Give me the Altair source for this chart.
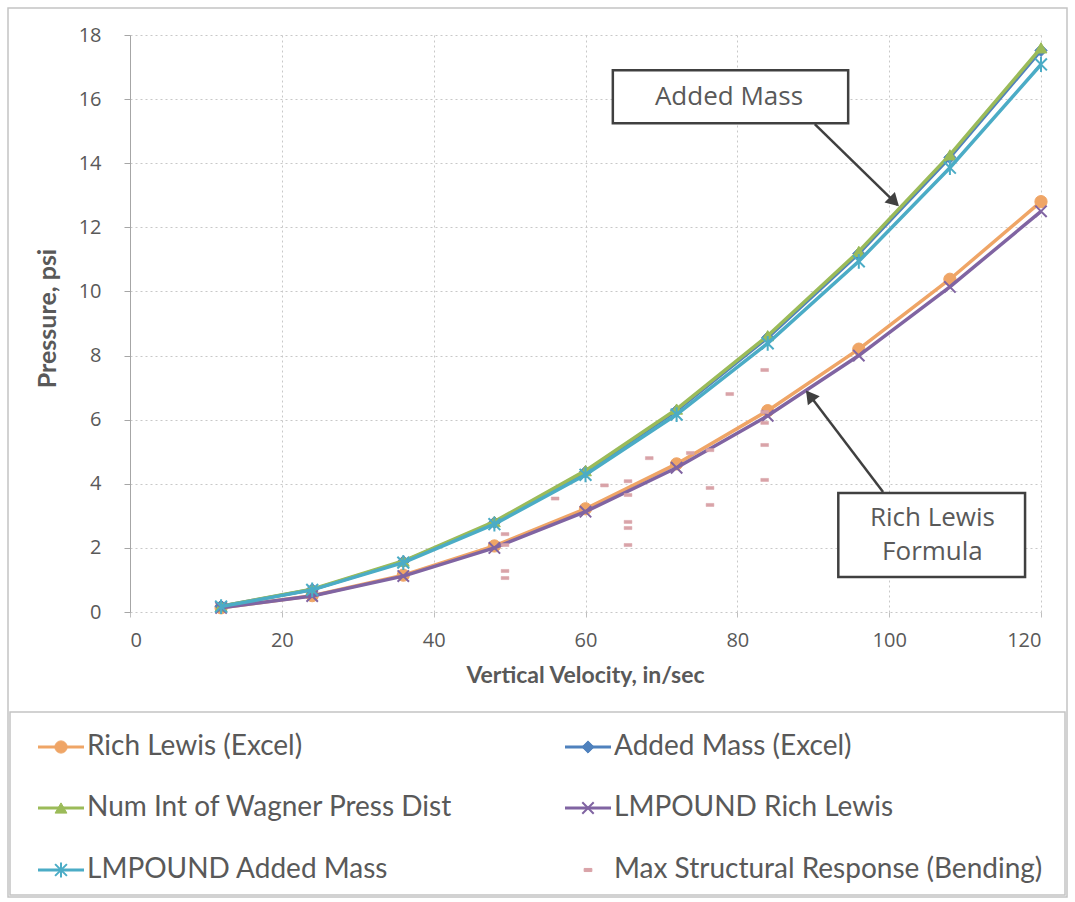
import math
import altair as alt
import pandas as pd

# ---- data -------------------------------------------------------------
velocity = [12, 24, 36, 48, 60, 72, 84, 96, 108, 120]

rich_lewis_excel = [0.13, 0.51, 1.15, 2.06, 3.22, 4.62, 6.28, 8.20, 10.38, 12.80]
added_mass_excel = [0.18, 0.70, 1.57, 2.79, 4.37, 6.28, 8.56, 11.18, 14.18, 17.52]
wagner_num_int = [0.18, 0.71, 1.59, 2.82, 4.41, 6.33, 8.62, 11.25, 14.26, 17.60]
lmpound_rich_lewis = [0.13, 0.50, 1.12, 2.00, 3.13, 4.50, 6.12, 8.00, 10.14, 12.50]
lmpound_added_mass = [0.17, 0.69, 1.54, 2.74, 4.28, 6.16, 8.38, 10.94, 13.86, 17.08]

# Max structural response (bending) test points
msr_velocity = [49.4, 49.4, 49.4, 49.4, 56.0, 62.5, 65.6, 65.6, 65.6, 65.6, 65.6,
                68.4, 73.8, 76.4, 76.4, 76.4, 79.0, 83.6, 83.6, 83.6, 83.6, 83.6]
msr_pressure = [2.43, 2.09, 1.28, 1.06, 3.54, 3.95, 4.08, 3.65, 2.81, 2.62, 2.09,
                4.80, 4.96, 5.05, 3.87, 3.34, 6.80, 7.55, 6.24, 5.90, 5.21, 4.12]

series_names = ["Rich Lewis (Excel)", "Added Mass (Excel)", "Num Int of Wagner Press Dist",
                "LMPOUND Rich Lewis", "LMPOUND Added Mass"]
series_values = [rich_lewis_excel, added_mass_excel, wagner_num_int,
                 lmpound_rich_lewis, lmpound_added_mass]
series_colors = ["#EFA566", "#4F81BD", "#9BBB59", "#8064A2", "#4BACC6"]
msr_name = "Max Structural Response (Bending)"
msr_color = "#D9A3A8"

# Callouts: box corners, text lines and arrow (start -> tip) in data units
callout_names = ["Added Mass", "Rich Lewis Formula"]
callout_box_x = [63.6, 93.3]
callout_box_x2 = [94.6, 117.9]
callout_box_y = [16.9, 3.71]
callout_box_y2 = [15.25, 1.09]
callout_text = [["Added Mass"], ["Rich Lewis", "Formula"]]
callout_text_x = [78.9, 105.7]
callout_text_y = [[16.07], [2.93, 1.87]]
arrow_x0 = [90.2, 99.2]
arrow_y0 = [15.22, 3.74]
arrow_x1 = [101.1, 89.2]
arrow_y1 = [12.70, 6.86]

# ---- layout -------------------------------------------------------------
W, H = 911, 577
X_MAX, Y_MAX = 120, 18
PX_X = W / X_MAX
PX_Y = H / Y_MAX

GRAY = "#595959"
FONT_TICK = "Open Sans"
FONT_TEXT = "Lato"

xscale = alt.Scale(domain=[0, X_MAX], nice=False, zero=True)
yscale = alt.Scale(domain=[0, Y_MAX], nice=False, zero=True)

xaxis = alt.Axis(values=list(range(0, 121, 20)), title="Vertical Velocity, in/sec",
                 grid=True, domain=False, tickSize=5, tickColor="#bfbfbf",
                 labelPadding=13, labelFontSize=20, labelColor=GRAY, labelFont=FONT_TICK,
                 titleFontSize=23, titleFont=FONT_TEXT, titleFontWeight="bold",
                 titleColor=GRAY, titleX=455, titleY=63, titleBaseline="middle",
                 titleAlign="center")
yaxis = alt.Axis(values=list(range(0, 19, 2)), title="Pressure, psi",
                 grid=True, domain=True, domainColor="#a6a6a6", tickSize=6,
                 tickColor="#a6a6a6", labelPadding=23, labelFontSize=20, labelColor=GRAY,
                 labelFont=FONT_TICK, titleFontSize=25, titleFont=FONT_TEXT,
                 titleFontWeight="bold", titleColor=GRAY, titleAngle=270,
                 titleX=-83, titleY=283, titleAlign="center", titleBaseline="middle")


def xy(xf, yf):
    return dict(x=alt.X(xf, type="quantitative", scale=xscale, axis=xaxis),
                y=alt.Y(yf, type="quantitative", scale=yscale, axis=yaxis))


X_SHAPE = "M-1,-1L1,1M-1,1L1,-1"
STAR_SHAPE = "M-1,-1L1,1M-1,1L1,-1M0,-1.25L0,1.25"
DASH_SHAPE = "M-1,-0.4L1,-0.4L1,0.4L-1,0.4Z"
marker_styles = [
    dict(shape="circle", filled=True, size=150),
    dict(shape="diamond", filled=True, size=150),
    dict(shape="triangle-up", filled=True, size=140),
    dict(shape=X_SHAPE, filled=False, size=130, strokeWidth=2),
    dict(shape=STAR_SHAPE, filled=False, size=140, strokeWidth=2),
]

layers = []

# outer frame and legend frame (pixel positions relative to the plot area)
frame = pd.DataFrame({"k": [0]})
layers.append(alt.Chart(frame).mark_rect(fill="white", fillOpacity=0, stroke="#c4c4c4",
                                         strokeWidth=1.5).encode(
    x=alt.value(-122), x2=alt.value(937), y=alt.value(-27), y2=alt.value(285 + 577)))
layers.append(alt.Chart(frame).mark_rect(fill="white", fillOpacity=0, stroke="#c4c4c4",
                                         strokeWidth=1.5).encode(
    x=alt.value(-120), x2=alt.value(935), y=alt.value(677), y2=alt.value(283 + 577)))

# data series: line with markers, drawn in series order
for name, vals, color, ms in zip(series_names, series_values, series_colors, marker_styles):
    df = pd.DataFrame({"velocity": velocity, "pressure": vals, "series": name})
    layers.append(alt.Chart(df).mark_line(color=color, strokeWidth=3.5).encode(
        **xy("velocity", "pressure")))
    pt = dict(ms)
    if pt["filled"]:
        pt["fill"] = color
        pt["stroke"] = color
        pt["strokeWidth"] = 1
    else:
        pt["stroke"] = color
    layers.append(alt.Chart(df).mark_point(opacity=1, **pt).encode(
        **xy("velocity", "pressure")))

msr_df = pd.DataFrame({"velocity": msr_velocity, "pressure": msr_pressure})
layers.append(alt.Chart(msr_df).mark_point(shape=DASH_SHAPE, filled=True, fill=msr_color,
                                           stroke=msr_color, strokeWidth=0.5,
                                           size=60, opacity=1).encode(
    **xy("velocity", "pressure")))

# callouts
for i in range(len(callout_names)):
    # arrow shaft
    a = pd.DataFrame({"x0": [arrow_x0[i]], "y0": [arrow_y0[i]],
                      "x1": [arrow_x1[i]], "y1": [arrow_y1[i]]})
    layers.append(alt.Chart(a).mark_rule(color="#404040", strokeWidth=2.5).encode(
        **xy("x0", "y0"), x2="x1:Q", y2="y1:Q"))
    # arrow head, pointing along the shaft in screen space
    dx = (arrow_x1[i] - arrow_x0[i]) * PX_X
    dy = -(arrow_y1[i] - arrow_y0[i]) * PX_Y
    ang = math.degrees(math.atan2(dx, -dy)) % 360
    L = math.hypot(dx, dy)
    back = 5.0
    hx = arrow_x1[i] - dx / L * back / PX_X
    hy = arrow_y1[i] + dy / L * back / PX_Y
    h = pd.DataFrame({"hx": [hx], "hy": [hy]})
    layers.append(alt.Chart(h).mark_point(shape="triangle-up", filled=True, fill="#404040",
                                          stroke="#404040", size=130, angle=ang,
                                          opacity=1).encode(**xy("hx", "hy")))
    # box
    b = pd.DataFrame({"bx": [callout_box_x[i]], "by": [callout_box_y[i]],
                      "bx2": [callout_box_x2[i]], "by2": [callout_box_y2[i]]})
    layers.append(alt.Chart(b).mark_rect(fill="white", stroke="#404040",
                                         strokeWidth=2.5).encode(
        **xy("bx", "by"), x2="bx2:Q", y2="by2:Q"))
    t = pd.DataFrame({"tx": [callout_text_x[i]] * len(callout_text[i]),
                      "ty": callout_text_y[i], "label": callout_text[i]})
    layers.append(alt.Chart(t).mark_text(font=FONT_TICK, fontSize=26, color=GRAY,
                                         align="center", baseline="middle").encode(
        **xy("tx", "ty"), text="label:N"))

# legend: two columns, three rows (pixel positions relative to the plot area)
legend_names = series_names + [msr_name]
legend_colors = series_colors + [msr_color]
legend_markers = marker_styles + [dict(shape=DASH_SHAPE, filled=True, size=60)]
col_x = [-92, 435]
row_y = [712, 773, 835]
for k, (name, color, ms) in enumerate(zip(legend_names, legend_colors, legend_markers)):
    cx = col_x[k % 2]
    ry = row_y[k // 2]
    d = pd.DataFrame({"label": [name]})
    if k < len(series_names):
        layers.append(alt.Chart(d).mark_rule(color=color, strokeWidth=3).encode(
            x=alt.value(cx), x2=alt.value(cx + 46), y=alt.value(ry)))
    pt = dict(ms)
    if pt["filled"]:
        pt["fill"] = color
        pt["stroke"] = color
        pt["strokeWidth"] = pt.get("strokeWidth", 1)
    else:
        pt["stroke"] = color
    layers.append(alt.Chart(d).mark_point(opacity=1, **pt).encode(
        x=alt.value(cx + 23), y=alt.value(ry)))
    layers.append(alt.Chart(d).mark_text(font=FONT_TEXT, fontSize=28, color=GRAY,
                                         align="left", baseline="middle").encode(
        x=alt.value(cx + 49), y=alt.value(ry), text="label:N"))

chart = alt.layer(*layers).properties(
    width=W, height=H,
    autosize=alt.AutoSizeParams(type="none"),
    padding={"left": 130, "top": 35, "right": 34, "bottom": 290},
    background="white",
).configure_view(stroke=None).configure_axis(
    gridColor="#c8c8c8", gridDash=[2, 3], gridWidth=1,
)

chart.save("out.html", embed_options={"renderer": "svg", "actions": False})
